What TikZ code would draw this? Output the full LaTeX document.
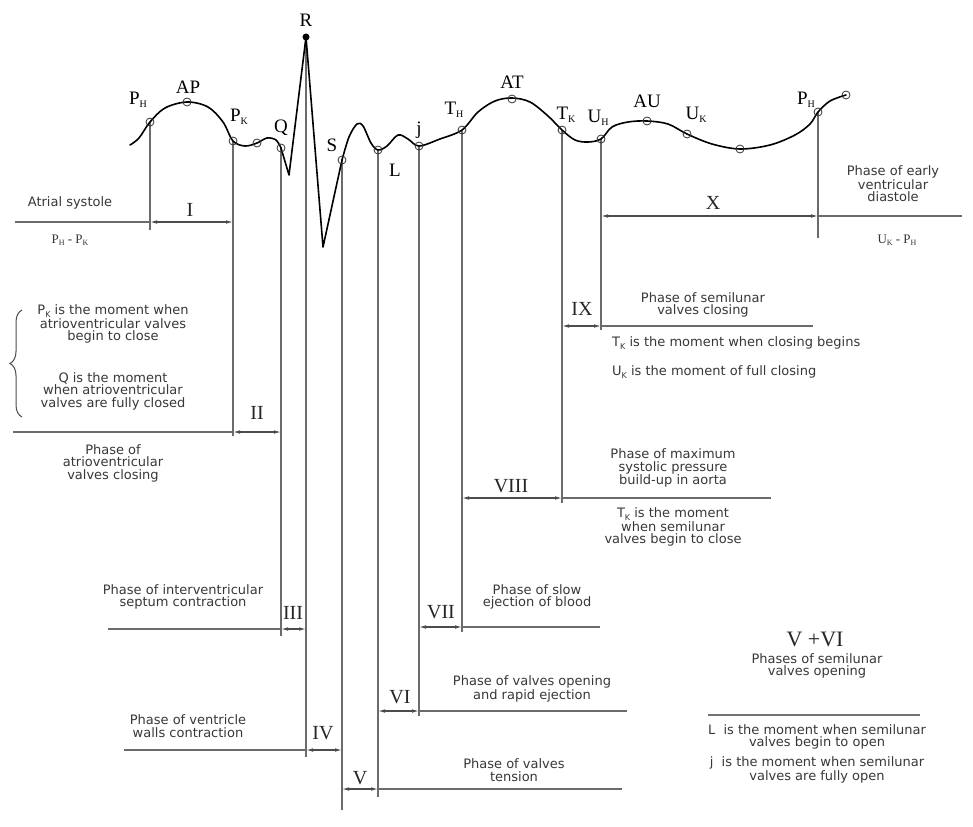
\documentclass[tikz,border=0pt]{standalone}
\usepackage{fontspec}
\setmainfont{Liberation Serif}
\newfontfamily\sansf{DejaVu Sans}
\usetikzlibrary{arrows.meta,decorations.pathreplacing}
\newcommand\lsub[1]{\raisebox{-0.35ex}{\fontsize{10}{10}\selectfont #1}}
\newcommand\tsub[1]{\raisebox{-0.4ex}{\fontsize{8}{8}\selectfont #1}}
\begin{document}
\begin{tikzpicture}[x=1pt,y=-1pt,
  >={Latex[length=7pt,width=3.6pt]},
  guide/.style={draw=black!58, line width=1.1pt},
  dimarrow/.style={draw=black!70, line width=1.1pt, <->},
  wave/.style={draw=black, line width=1.6pt, line join=round, line cap=round},
  wavept/.style={circle, draw=black!80, line width=0.8pt, minimum size=8pt, inner sep=0pt},
  txt/.style={font=\sansf\fontsize{13}{12.5}\selectfont, text=black!78, align=center, inner sep=0pt},
  stxt/.style={font=\fontsize{13}{13}\selectfont, text=black!80, inner sep=0pt},
  roman/.style={font=\fontsize{20}{20}\selectfont, text=black!85, inner sep=0pt},
  clab/.style={font=\fontsize{19}{19}\selectfont, text=black, inner sep=0pt}]
\useasboundingbox (0,0) rectangle (973,826);
\fill[white] (0,0) rectangle (973,826);

% ---- key points on the curve
\coordinate (c0) at (130,145);
\coordinate (PH) at (150,122);
\coordinate (AP) at (187,102);
\coordinate (PK) at (233,141);
\coordinate (m1) at (257,143);
\coordinate (Q) at (281,148);
\coordinate (Qd) at (289,175);
\coordinate (R) at (306,37);
\coordinate (Sd) at (323,247);
\coordinate (S) at (342,160);
\coordinate (L) at (378,150);
\coordinate (J) at (419,146);
\coordinate (TH) at (462,130);
\coordinate (AT) at (512,99);
\coordinate (TK) at (562,130);
\coordinate (UH) at (601,139);
\coordinate (AU) at (647,121);
\coordinate (UK) at (687,134);
\coordinate (m2) at (740,149);
\coordinate (PH2) at (818,112);
\coordinate (cE) at (846,95);

% ---- feet of the vertical guides
\coordinate (PHb) at (150,230);
\coordinate (PKb) at (233,436);
\coordinate (Qb) at (281,636);
\coordinate (Rb) at (306,757);
\coordinate (Sb) at (342,810);
\coordinate (Lb) at (378,797);
\coordinate (Jb) at (419,716);
\coordinate (THb) at (462,632);
\coordinate (TKb) at (562,503);
\coordinate (UHb) at (601,330);
\coordinate (PH2b) at (818,238);

\draw[guide] (PH) -- (PHb);
\draw[guide] (PK) -- (PKb);
\draw[guide] (Q) -- (Qb);
\draw[guide] (R) -- (Rb);
\draw[guide] (S) -- (Sb);
\draw[guide] (L) -- (Lb);
\draw[guide] (J) -- (Jb);
\draw[guide] (TH) -- (THb);
\draw[guide] (TK) -- (TKb);
\draw[guide] (UH) -- (UHb);
\draw[guide] (PH2) -- (PH2b);

% ---- horizontal lines and dimension arrows
\coordinate (h1a) at (15,222);   \coordinate (d1a) at (150,222);  \coordinate (d1b) at (233,222);
\coordinate (h2a) at (13,432);   \coordinate (d2a) at (233,432);  \coordinate (d2b) at (281,432);
\coordinate (h3a) at (108,629);  \coordinate (d3a) at (281,629);  \coordinate (d3b) at (306,629);
\coordinate (h4a) at (124,750);  \coordinate (d4a) at (306,750);  \coordinate (d4b) at (342,750);
\coordinate (d5a) at (342,789);  \coordinate (d5b) at (378,789);  \coordinate (h5b) at (622,789);
\coordinate (d6a) at (378,711);  \coordinate (d6b) at (419,711);  \coordinate (h6b) at (627,711);
\coordinate (d7a) at (419,627);  \coordinate (d7b) at (462,627);  \coordinate (h7b) at (600,627);
\coordinate (d8a) at (462,498);  \coordinate (d8b) at (562,498);  \coordinate (h8b) at (771,498);
\coordinate (d9a) at (562,326);  \coordinate (d9b) at (601,326);  \coordinate (h9b) at (813,326);
\coordinate (dXa) at (601,216);  \coordinate (dXb) at (818,216);  \coordinate (hXb) at (962,216);
\coordinate (sepa) at (708,715); \coordinate (sepb) at (920,715);

\draw[guide] (h1a) -- (d1a);
\draw[guide] (h2a) -- (d2a);
\draw[guide] (h3a) -- (d3a);
\draw[guide] (h4a) -- (d4a);
\draw[guide] (d5b) -- (h5b);
\draw[guide] (d6b) -- (h6b);
\draw[guide] (d7b) -- (h7b);
\draw[guide] (d8b) -- (h8b);
\draw[guide] (d9b) -- (h9b);
\draw[guide] (dXb) -- (hXb);
\draw[guide, line width=1.6pt, draw=black!55] (sepa) -- (sepb);

\draw[dimarrow] (d1a) -- (d1b);
\draw[dimarrow] (d2a) -- (d2b);
\draw[dimarrow] (d3a) -- (d3b);
\draw[dimarrow] (d4a) -- (d4b);
\draw[dimarrow] (d5a) -- (d5b);
\draw[dimarrow] (d6a) -- (d6b);
\draw[dimarrow] (d7a) -- (d7b);
\draw[dimarrow] (d8a) -- (d8b);
\draw[dimarrow] (d9a) -- (d9b);
\draw[dimarrow] (dXa) -- (dXb);

% ---- the curve
\draw[wave] plot[smooth, tension=0.55] coordinates {(130,145) (139,138) (150,122) (165,108) (187,102) (208,107) (223,122) (233,141) (245,146) (257,143) (267,138) (276,140) (281,148)};
\draw[wave] (Q) -- (Qd) -- (R) -- (Sd) -- (S);
\draw[wave] plot[smooth, tension=0.55] coordinates {(342,160) (349,137) (357,124) (363,126) (371,143) (378,150) (387,146) (398,135) (408,139) (419,146) (440,139) (462,130) (478,112) (495,101) (512,98) (530,102) (548,116) (562,130) (575,140) (588,142) (601,139) (612,127) (628,122) (647,121) (668,124) (687,134) (712,144) (740,149) (770,145) (795,135) (810,124) (818,112) (830,101) (846,95)};

\foreach \a in {PH,AP,PK,m1,Q,S,L,J,TH,AT,TK,UH,AU,UK,m2,PH2,cE}
  \node[wavept] (o\a) at (\a) {};
\node[circle, fill=black, minimum size=7pt, inner sep=0pt] (oR) at (R) {};

% ---- curve labels
\node[clab] (lPH) at (138,100) {P\lsub{H}};
\node[clab] (lAP) at (188,87) {AP};
\node[clab] (lPK) at (239,117) {P\lsub{K}};
\node[clab] (lQ) at (281,128) {Q};
\node[clab] (lR) at (306,20) {R};
\node[clab] (lS) at (332,145) {S};
\node[clab] (lL) at (395,170) {L};
\node[clab] (lJ) at (419,130) {j};
\node[clab] (lTH) at (454,110) {T\lsub{H}};
\node[clab] (lAT) at (512,82) {AT};
\node[clab] (lTK) at (566,115) {T\lsub{K}};
\node[clab] (lUH) at (598,118) {U\lsub{H}};
\node[clab] (lAU) at (647,101) {AU};
\node[clab] (lUK) at (696,115) {U\lsub{K}};
\node[clab] (lPH2) at (806,100) {P\lsub{H}};

% ---- phase numbers
\node[roman] (nI) at (190,210) {I};
\node[roman] (nII) at (257,413) {II};
\node[roman] (nIII) at (293,613) {III};
\node[roman] (nIV) at (323,733) {IV};
\node[roman] (nV) at (360,778) {V};
\node[roman] (nVI) at (400,697) {VI};
\node[roman] (nVII) at (441,612) {VII};
\node[roman] (nVIII) at (511,486) {VIII};
\node[roman] (nIX) at (582,309) {IX};
\node[roman] (nX) at (713,203) {X};
\node[roman, font=\fontsize{22}{22}\selectfont] (nVVI) at (815,639) {V +VI};

% ---- texts
\node[txt] (tAS) at (70,203) {Atrial systole};
\node[stxt] (tAS2) at (70,240) {P\tsub{H} - P\tsub{K}};
\node[txt] (tPK) at (113,324) {P\tsub{K} is the moment when\\atrioventricular valves\\begin to close};
\node[txt] (tQ) at (113,391) {Q is the moment\\when atrioventricular\\valves are fully closed};
\node[txt] (tII) at (113,463) {Phase of\\atrioventricular\\valves closing};
\node[txt] (tIII) at (183,597) {Phase of interventricular\\septum contraction};
\node[txt] (tIV) at (188,726) {Phase of ventricle\\walls contraction};
\node[txt] (tVII) at (537,597) {Phase of slow\\ejection of blood};
\node[txt] (tVI) at (532,689) {Phase of valves opening\\and rapid ejection};
\node[txt] (tV) at (514,770) {Phase of valves\\tension};
\node[txt] (tVVI) at (817,666) {Phases of semilunar\\valves opening};
\node[txt] (tLm) at (817,737) {L\ \ is the moment when semilunar\\valves begin to open};
\node[txt] (tJm) at (817,770) {j\ \ is the moment when semilunar\\valves are fully open};
\node[txt] (tVIII) at (673,468) {Phase of maximum\\systolic pressure\\build-up in aorta};
\node[txt] (tTK) at (673,527) {T\tsub{K} is the moment\\when semilunar\\valves begin to close};
\node[txt] (tIX) at (703,305) {Phase of semilunar\\valves closing};
\node[txt, anchor=west] (tTK2) at (612,343) {T\tsub{K} is the moment when closing begins};
\node[txt, anchor=west] (tUK) at (612,372) {U\tsub{K} is the moment of full closing};
\node[txt] (tX) at (893,184) {Phase of early\\ventricular\\diastole};
\node[stxt] (tX2) at (897,240) {U\tsub{K} - P\tsub{H}};

% ---- brace
\draw[black!70, line width=1pt, decorate, decoration={brace, amplitude=12pt}] (22,417) -- (22,310);
\end{tikzpicture}
\end{document}
